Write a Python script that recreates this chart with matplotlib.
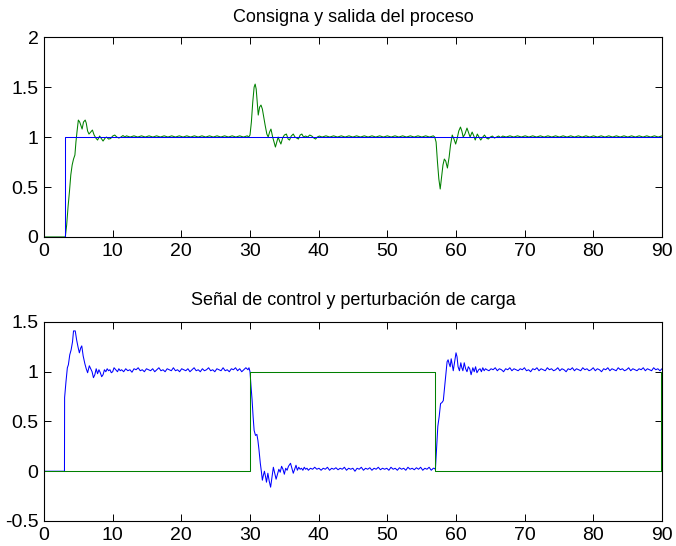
import numpy as np
import matplotlib
matplotlib.use("Agg")
import matplotlib.pyplot as plt
from matplotlib.ticker import FormatStrFormatter

plt.rcParams['font.family'] = ['Liberation Sans', 'DejaVu Sans']

# --- top panel: setpoint and process output ---
t_ref = [0, 3, 3, 90]
y_ref = [0, 0, 1, 1]

t_out_a = [0, 3.1, 3.3, 3.5, 3.7, 3.9, 4.1, 4.3, 4.5, 4.65, 4.8, 5.0, 5.2, 5.35, 5.55,
           5.75, 6.0, 6.15, 6.35, 6.55, 6.8, 7.05, 7.3, 7.55, 7.8, 8.1, 8.4, 8.6, 8.9,
           9.1, 9.4, 9.7, 10.0, 10.3, 10.6, 10.9, 11.2, 11.5, 11.8]
y_out_a = [0, 0, 0.12, 0.3, 0.45, 0.62, 0.72, 0.78, 0.82, 0.95, 1.05, 1.17, 1.15, 1.12, 1.08,
           1.15, 1.17, 1.14, 1.06, 1.03, 1.05, 1.07, 1.02, 0.99, 0.97, 1.01, 0.98, 0.96, 0.99,
           1.0, 0.98, 0.985, 1.01, 1.02, 1.0, 0.99, 1.0, 1.015, 1.0]
# steady ripple 12 .. 29.6
y_out_r1 = [1.012, 1.0, 1.012, 1.0, 1.012, 1.0, 1.012, 1.0, 1.012, 1.0, 1.012,
            1.0, 1.012, 1.0, 1.012, 1.0, 1.012, 1.0, 1.012, 1.0, 1.012, 1.0,
            1.012, 1.0, 1.012, 1.0, 1.012, 1.0, 1.012, 1.0, 1.012, 1.0, 1.012]
t_out_b = [29.8, 30.0, 30.2, 30.4, 30.6, 30.75, 30.9, 31.05, 31.2, 31.4, 31.6, 31.8, 32.0,
           32.2, 32.45, 32.65, 32.85, 33.05, 33.3, 33.5, 33.7, 33.95, 34.1, 34.3, 34.5,
           34.75, 35.0, 35.3, 35.55, 35.75, 36.0, 36.3, 36.55, 36.8, 37.05, 37.3, 37.55,
           37.8, 38.1, 38.4, 38.7, 39.0, 39.3, 39.55, 39.8, 40.1]
y_out_b = [1.0, 1.02, 1.15, 1.35, 1.5, 1.53, 1.48, 1.35, 1.22, 1.30, 1.32, 1.28, 1.2,
           1.12, 1.03, 1.0, 1.05, 1.08, 1.0, 0.95, 0.90, 0.96, 1.0, 0.96, 0.93,
           0.99, 1.02, 1.03, 0.98, 0.97, 1.01, 1.03, 1.0, 0.99, 0.98, 1.02, 1.03,
           1.0, 1.01, 1.0, 1.02, 1.01, 0.99, 0.98, 1.0, 1.01]
# steady ripple 40.5 .. 56.7
y_out_r2 = [1.0, 1.012, 1.0, 1.012, 1.0, 1.012, 1.0, 1.012, 1.0, 1.012, 1.0,
            1.012, 1.0, 1.012, 1.0, 1.012, 1.0, 1.012, 1.0, 1.012, 1.0, 1.012,
            1.0, 1.012, 1.0, 1.012, 1.0, 1.012, 1.0, 1.012]
t_out_c = [56.9, 57.1, 57.3, 57.5, 57.7, 57.9, 58.1, 58.3, 58.5, 58.75, 59.0, 59.2, 59.45,
           59.7, 59.95, 60.15, 60.4, 60.65, 60.85, 61.05, 61.3, 61.6, 61.85, 62.05, 62.35,
           62.6, 62.8, 63.1, 63.35, 63.6, 63.9, 64.15, 64.45, 64.7, 65.0, 65.3, 65.6,
           65.9, 66.2, 66.5, 66.8]
y_out_c = [1.0, 0.95, 0.75, 0.58, 0.48, 0.6, 0.72, 0.78, 0.76, 0.69, 0.8, 0.92, 1.02,
           0.98, 0.93, 0.98, 1.06, 1.10, 1.06, 1.0, 1.03, 1.09, 1.04, 1.0, 1.05,
           1.01, 0.97, 1.03, 1.0, 0.97, 1.0, 1.02, 0.99, 0.98, 1.0, 1.01, 0.99,
           1.0, 1.01, 0.995, 1.01]
# steady ripple 67.3 .. 90
y_out_r3 = [1.0, 1.012, 1.0, 1.012, 1.0, 1.012, 1.0, 1.012, 1.0, 1.012, 1.0,
            1.012, 1.0, 1.012, 1.0, 1.012, 1.0, 1.012, 1.0, 1.012, 1.0, 1.012,
            1.0, 1.012, 1.0, 1.012, 1.0, 1.012, 1.0, 1.012, 1.0, 1.012, 1.0,
            1.012, 1.0, 1.012, 1.0, 1.012, 1.0, 1.012, 1.0, 1.012]

# --- bottom panel: control signal and load disturbance ---
t_load = [0, 30, 30, 57, 57, 89.8, 89.8, 90]
y_load = [0, 0, 1, 1, 0, 0, 1, 1]

t_u_a = [0, 2.98, 3.0, 3.2, 3.4, 3.55, 3.75, 3.95, 4.15, 4.3, 4.55, 4.75, 4.95, 5.15, 5.35,
         5.5, 5.7, 5.95, 6.15, 6.35, 6.6, 6.8, 7.0, 7.2, 7.4, 7.6, 7.8, 8.0, 8.2, 8.4,
         8.6, 8.8, 9.0, 9.2, 9.4, 9.6, 9.8, 10.0, 10.2, 10.45, 10.7, 10.9, 11.1]
u_a = [0, 0, 0.74, 0.9, 1.04, 1.07, 1.17, 1.22, 1.3, 1.41, 1.41, 1.32, 1.25, 1.19, 1.24,
       1.26, 1.16, 1.08, 1.03, 0.99, 1.06, 1.03, 1.0, 0.94, 0.97, 1.03, 0.98, 1.02, 0.99, 0.95,
       0.97, 1.02, 1.0, 1.03, 1.01, 1.02, 0.99, 1.0, 1.04, 1.02, 1.0, 1.03, 1.01]
# noise 11.3 .. 29.7
u_n1 = [1.02, 1.00, 1.03, 1.01, 1.02, 0.995, 1.03, 1.02, 1.04, 1.01, 1.02, 1.00, 1.03, 1.02,
        1.01, 1.03, 1.00, 1.02, 1.04, 1.01, 1.02, 1.00, 1.03, 1.02, 1.01, 1.04, 1.01, 1.02,
        1.00, 1.03, 1.02, 1.01, 1.03, 1.00, 1.02, 1.04, 1.01, 1.02, 1.00, 1.03, 1.01, 1.02,
        1.04, 1.01, 1.02, 1.00, 1.03, 1.02, 1.01, 1.04, 1.01, 1.02, 1.00, 1.03, 1.02, 1.04,
        1.01, 1.03, 1.00, 1.02, 1.04, 1.02]
t_u_b = [29.85, 30.0, 30.15, 30.3, 30.45, 30.6, 30.8, 31.0, 31.15, 31.3, 31.5, 31.65, 31.8,
         31.95, 32.1, 32.25, 32.4, 32.6, 32.8, 33.0, 33.2, 33.4, 33.6, 33.8, 34.0, 34.2,
         34.4, 34.6, 34.8, 35.0, 35.2, 35.4, 35.6, 35.9, 36.1, 36.3, 36.5, 36.7, 36.9,
         37.1, 37.3, 37.5, 37.7, 37.9, 38.1, 38.3]
u_b = [1.04, 1.0, 0.85, 0.72, 0.55, 0.41, 0.36, 0.37, 0.31, 0.22, 0.08, 0.0, -0.09,
       -0.04, 0.0, -0.05, -0.11, -0.02, -0.1, -0.16, -0.06, 0.04, -0.02, -0.08, -0.03, 0.02,
       -0.01, 0.05, 0.02, -0.03, 0.03, 0.01, 0.05, 0.08, 0.03, -0.02, 0.02, 0.06, 0.01,
       0.04, 0.02, 0.03, 0.01, 0.04, 0.02, 0.03]
# noise 38.5 .. 56.7
u_n2 = [0.01, 0.03, 0.02, 0.04, 0.02, 0.03, 0.01, 0.03, 0.02, 0.04, 0.01, 0.03, 0.02, 0.035,
        0.015, 0.03, 0.02, 0.04, 0.01, 0.03, 0.02, 0.03, 0.00, 0.03, 0.02, 0.04, 0.01, 0.03,
        0.02, 0.035, 0.01, 0.03, 0.02, 0.04, 0.015, 0.03, 0.02, 0.03, 0.01, 0.04, 0.02, 0.03,
        0.01, 0.035, 0.02, 0.03, 0.01, 0.04, 0.02, 0.03, 0.015, 0.035, 0.02, 0.04, 0.01, 0.03,
        0.02, 0.04, 0.01, 0.03]
t_u_c = [56.8, 57.0, 57.15, 57.35, 57.55, 57.75, 57.95, 58.15, 58.35, 58.55, 58.7, 58.85,
         59.0, 59.15, 59.3, 59.45, 59.6, 59.8, 60.0, 60.15, 60.3, 60.5, 60.7, 60.85, 61.0,
         61.2, 61.4, 61.6, 61.8, 62.0, 62.2, 62.45, 62.65, 62.85, 63.05, 63.3, 63.5, 63.7,
         63.9, 64.1, 64.3, 64.5]
u_c = [0.03, 0.02, 0.2, 0.45, 0.55, 0.68, 0.69, 0.71, 0.85, 1.0, 1.1, 1.12,
       1.08, 1.05, 1.13, 1.07, 1.01, 1.1, 1.19, 1.15, 1.05, 1.01, 1.09, 1.04, 1.01,
       1.09, 1.03, 1.0, 1.05, 1.03, 0.97, 1.04, 1.0, 1.05, 0.99, 1.02, 1.03, 1.00,
       1.04, 1.01, 1.03, 1.02]
# noise 64.8 .. 90
u_n3 = [1.01, 1.03, 1.02, 1.04, 1.01, 1.03, 1.02, 1.00, 1.03, 1.02, 1.04, 1.01, 1.03, 1.02,
        1.01, 1.03, 1.02, 1.04, 1.01, 1.02, 1.00, 1.03, 1.02, 1.04, 1.01, 1.03, 1.02, 1.01,
        1.04, 1.02, 1.03, 1.01, 1.02, 1.04, 1.01, 1.03, 1.02, 1.00, 1.03, 1.02, 1.04, 1.01,
        1.03, 1.02, 1.01, 1.04, 1.02, 1.03, 1.01, 1.02, 1.04, 1.01, 1.03, 1.02, 1.00, 1.03,
        1.02, 1.04, 1.01, 1.03, 1.02, 1.01, 1.04, 1.02, 1.03, 1.01, 1.02, 1.04, 1.01, 1.03,
        1.02, 1.01, 1.03, 1.02, 1.04, 1.01, 1.03, 1.02, 1.01, 1.04, 1.02, 1.03, 1.01, 1.03]

# assemble series (steady parts on an even time grid)
t_out = np.concatenate([t_out_a, np.linspace(12.0, 29.6, len(y_out_r1)), t_out_b,
                        np.linspace(40.5, 56.7, len(y_out_r2)), t_out_c,
                        np.linspace(67.3, 90.0, len(y_out_r3))])
y_out = np.concatenate([y_out_a, y_out_r1, y_out_b, y_out_r2, y_out_c, y_out_r3])
t_u = np.concatenate([t_u_a, np.linspace(11.3, 29.7, len(u_n1)), t_u_b,
                      np.linspace(38.5, 56.7, len(u_n2)), t_u_c,
                      np.linspace(64.8, 90.0, len(u_n3))])
u = np.concatenate([u_a, u_n1, u_b, u_n2, u_c, u_n3])

blue = (0, 0, 1)
green = (0, 0.5, 0)

fig = plt.figure(figsize=(6.76, 5.46), dpi=100)
ax1 = fig.add_axes([0.0651, 0.566, 0.9142, 0.366])
ax2 = fig.add_axes([0.0651, 0.0458, 0.9142, 0.3645])

ax1.plot(t_out, y_out, color=green, lw=0.75, zorder=2)
ax1.plot(t_ref, y_ref, color=blue, lw=0.75, zorder=3)
ax1.set_xlim(0, 90)
ax1.set_ylim(0, 2)
ax1.set_yticks([0, 0.5, 1, 1.5, 2])
ax1.set_title("Consigna y salida del proceso", fontsize=13, pad=11)

ax2.plot(t_u, u, color=blue, lw=0.75)
ax2.plot(t_load, y_load, color=green, lw=0.75)
ax2.set_xlim(0, 90)
ax2.set_ylim(-0.5, 1.5)
ax2.set_yticks([-0.5, 0, 0.5, 1, 1.5])
ax2.set_title("Señal de control y perturbación de carga", fontsize=13, pad=12)

for ax in (ax1, ax2):
    ax.set_xticks(range(0, 91, 10))
    ax.yaxis.set_major_formatter(FormatStrFormatter('%g'))
    ax.tick_params(direction='in', top=True, right=True, length=5, width=0.7,
                   labelsize=14, pad=4)
    for s in ax.spines.values():
        s.set_linewidth(0.8)

fig.savefig("out.png", dpi=100)
